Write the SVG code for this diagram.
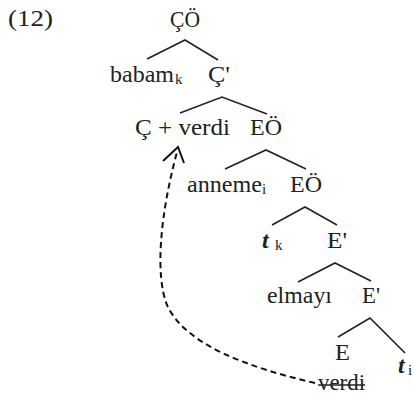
<svg xmlns="http://www.w3.org/2000/svg" width="413" height="399" viewBox="0 0 413 399">
<style>
text{font-family:"Liberation Serif","Times New Roman",serif;font-size:24px;fill:#222}
.sub{font-size:15px}
.it{font-style:italic;font-weight:bold}
.br{stroke:#222;stroke-width:1.6;fill:none}
.mv{stroke:#111;stroke-width:2;fill:none;stroke-dasharray:6,4}
</style>
<rect width="413" height="399" fill="#fff"/>
<text x="8" y="26" textLength="45" lengthAdjust="spacingAndGlyphs">(12)</text>
<g id="n-CO"><text x="170" y="27" textLength="30" lengthAdjust="spacingAndGlyphs">ÇÖ</text></g>
<g id="n-babam"><text x="110" y="82" textLength="64" lengthAdjust="spacingAndGlyphs">babam</text><text class="sub" x="175" y="84">k</text></g>
<g id="n-Cbar"><text x="208" y="82" textLength="22" lengthAdjust="spacingAndGlyphs">Ç'</text></g>
<g id="n-Cverdi"><text x="135" y="135" textLength="95" lengthAdjust="spacingAndGlyphs">Ç + verdi</text></g>
<g id="n-EO1"><text x="250" y="135" textLength="32" lengthAdjust="spacingAndGlyphs">EÖ</text></g>
<g id="n-anneme"><text x="187" y="192" textLength="75" lengthAdjust="spacingAndGlyphs">anneme</text><text class="sub" x="262" y="194">i</text></g>
<g id="n-EO2"><text x="290" y="192" textLength="32" lengthAdjust="spacingAndGlyphs">EÖ</text></g>
<g id="n-tk"><text class="it" x="262" y="248">t</text><text class="sub" x="275" y="250">k</text></g>
<g id="n-Ebar1"><text x="327" y="248" textLength="20" lengthAdjust="spacingAndGlyphs">E'</text></g>
<g id="n-elmayi"><text x="267" y="303" textLength="65" lengthAdjust="spacingAndGlyphs">elmayı</text></g>
<g id="n-Ebar2"><text x="362" y="303" textLength="18" lengthAdjust="spacingAndGlyphs">E'</text></g>
<g id="n-E"><text x="335" y="360" textLength="15" lengthAdjust="spacingAndGlyphs">E</text></g>
<g id="n-ti"><text class="it" x="398" y="373">t</text><text class="sub" x="408" y="375">i</text></g>
<g id="n-verdi"><text x="318" y="390" textLength="47" lengthAdjust="spacingAndGlyphs">verdi</text><line x1="318" y1="385" x2="365" y2="385" stroke="#222" stroke-width="1.3"/></g>
<g id="connectors">
<path class="br" d="M147,59 L185,40 L218,60"/>
<path class="br" d="M180,113 L222,97 L267,114"/>
<path class="br" d="M225,169 L266,150 L306,169"/>
<path class="br" d="M272,225 L305,207 L337,225"/>
<path class="br" d="M298,282 L335,263 L371,281"/>
<path class="br" d="M338,337 L370,318 L405,353"/>
<path class="mv" d="M315,383 C250,368 185,345 167,305 C155,275 160,215 177,152"/>
<polyline points="163,161 178,147 184,163" fill="none" stroke="#111" stroke-width="2"/>
</g>
</svg>
